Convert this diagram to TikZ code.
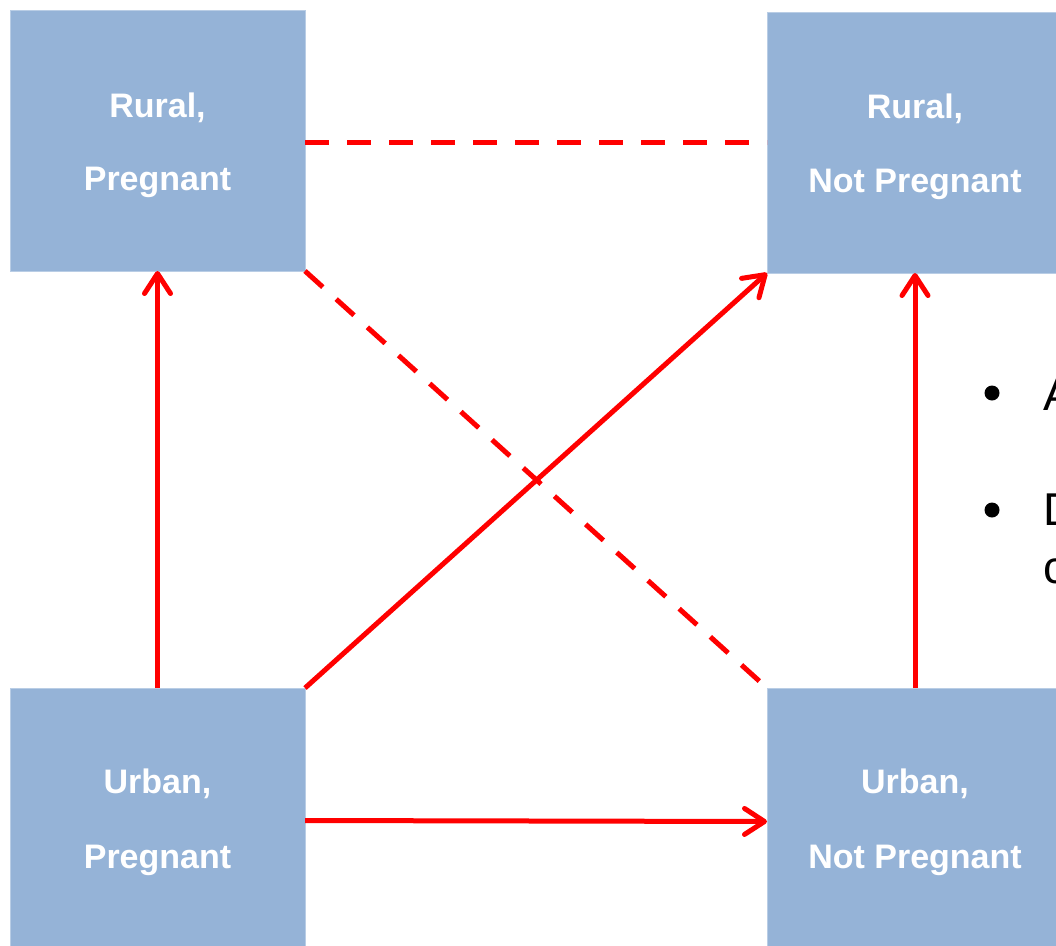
\documentclass[tikz,border=0pt]{standalone}
\usepackage{fontspec}
\setmainfont{Liberation Sans}
\usetikzlibrary{arrows.meta}
\definecolor{boxfill}{HTML}{95B3D7}
\definecolor{boxline}{HTML}{B9CDE5}
\definecolor{linkred}{HTML}{FF0000}
\tikzset{
  box/.style={draw=boxline, line width=1pt, fill=boxfill, minimum width=295pt, minimum height=261pt, inner sep=0pt, outer sep=0pt},
  boxtext/.style={text=white, font=\fontsize{34}{40}\selectfont\bfseries, anchor=base, inner sep=0pt},
  link/.style={draw=linkred, line width=5pt, -{Straight Barb[length=20pt,width=26pt,line cap=round,line join=round]}},
  dashlink/.style={draw=linkred, line width=5pt, dash pattern=on 24pt off 18pt},
  bullettext/.style={font=\fontsize{46}{58}\selectfont, anchor=base west, inner sep=0pt},
  bulletdot/.style={circle, fill=black, minimum size=15pt, inner sep=0pt},
}
\begin{document}
\begin{tikzpicture}[x=1pt,y=-1pt]
\useasboundingbox (0,0) rectangle (1056,945);
\clip (0,0) rectangle (1056,945);
% boxes
\node[box] (tl) at (157.5,140.5) {};
\node[box, minimum width=296pt] (tr) at (915,142.5) {};
\node[box] (bl) at (157.5,818.5) {};
\node[box, minimum width=296pt] (br) at (915,818.5) {};
% box texts
\node[boxtext] (tl1) at (157.5,117) {Rural,};
\node[boxtext] (tl2) at (157.5,190) {Pregnant};
\node[boxtext] (tr1) at (915,118) {Rural,};
\node[boxtext] (tr2) at (915,192) {Not Pregnant};
\node[boxtext] (bl1) at (157.5,793) {Urban,};
\node[boxtext] (bl2) at (157.5,868) {Pregnant};
\node[boxtext] (br1) at (915,793) {Urban,};
\node[boxtext] (br2) at (915,868) {Not Pregnant};
% connectors
\draw[dashlink] ([yshift=-2pt]tl.east) -- (tr.west);
\draw[dashlink] (tl.south east) -- (br.north west);
\draw[link] (bl.north) -- (tl.south);
\draw[link] (bl.north east) -- (tr.south west);
\draw[link] (br.north) -- (tr.south);
\draw[link] ([yshift=-2pt]bl.east) -- ([yshift=-3pt]br.west);
% bullets (cut off at the right edge, as in the reference)
\node[bulletdot] (d1) at (992,393) {};
\node[bulletdot] (d2) at (992,510) {};
\node[bullettext] (t1) at (1043,410) {A};
\node[bullettext] (t2) at (1043,525) {D};
\node[bullettext] (t3) at (1043,583) {c};
\end{tikzpicture}
\end{document}
